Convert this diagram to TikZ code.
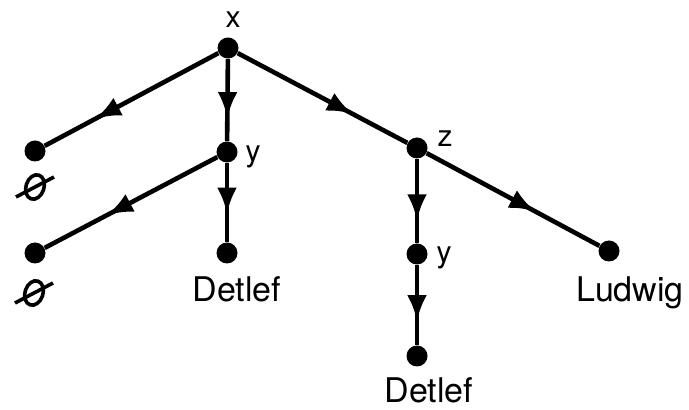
\documentclass[tikz,border=0pt]{standalone}
\usepackage{fontspec}
\setmainfont{TeX Gyre Heros}
\usetikzlibrary{arrows.meta,decorations.markings}
\begin{document}
\begin{tikzpicture}[x=0.5pt,y=-0.5pt,
  dot/.style={circle,fill=black,inner sep=0pt,minimum size=10.5pt},
  edge/.style={line width=2.3pt,postaction={decorate},
    decoration={markings,mark=at position #1 with {\arrow{Latex[length=13pt,width=10pt]}}}},
  edge/.default=0.68,
  lab/.style={font=\fontsize{15}{18}\selectfont,anchor=base,inner sep=0pt},
  nametext/.style={font=\fontsize{17}{20}\selectfont,anchor=base,inner sep=0pt},
  esym/.style={line width=1.8pt},
  anchorpt/.style={inner sep=0pt,minimum size=0pt}]
\useasboundingbox (0,0) rectangle (689,410);
% dots
\node[dot] (X) at (228,48) {};
\node[dot] (L1) at (35,151) {};
\node[dot] (Y1) at (227,152) {};
\node[dot] (L2) at (35,253) {};
\node[dot] (D1) at (227,253) {};
\node[dot] (Z) at (417,148) {};
\node[dot] (Y2) at (417,254) {};
\node[dot] (D2) at (417,356) {};
\node[dot] (LU) at (609,251) {};
% edges
\draw[edge=0.71] (X) -- (L1);
\draw[edge=0.72] (X) -- (Y1);
\draw[edge=0.68] (X) -- (Z);
\draw[edge=0.64] (Y1) -- (L2);
\draw[edge=0.64] (Y1) -- (D1);
\draw[edge=0.73] (Z) -- (Y2);
\draw[edge=0.63] (Z) -- (LU);
\draw[edge=0.70] (Y2) -- (D2);
% labels
\node[lab] (tx) at (233,28) {x};
\node[lab] (ty1) at (253,162) {y};
\node[lab] (tz) at (445,147) {z};
\node[lab] (ty2) at (444,263) {y};
\node[nametext] (tD1) at (237,302) {Detlef};
\node[nametext] (tLU) at (630,302) {Ludwig};
\node[nametext] (tD2) at (429,402) {Detlef};
% empty set symbols
\node[anchorpt] (E1) at (35,187) {};
\node[anchorpt] (E2) at (34,293) {};
\foreach \e in {E1,E2}{
  \draw[esym,rotate around={-18:(\e.center)}] (\e.center) ellipse [x radius=9, y radius=12.5];
  \draw[esym] (\e.center) ++(-19,10) -- ++(38,-20);
}
\end{tikzpicture}
\end{document}
